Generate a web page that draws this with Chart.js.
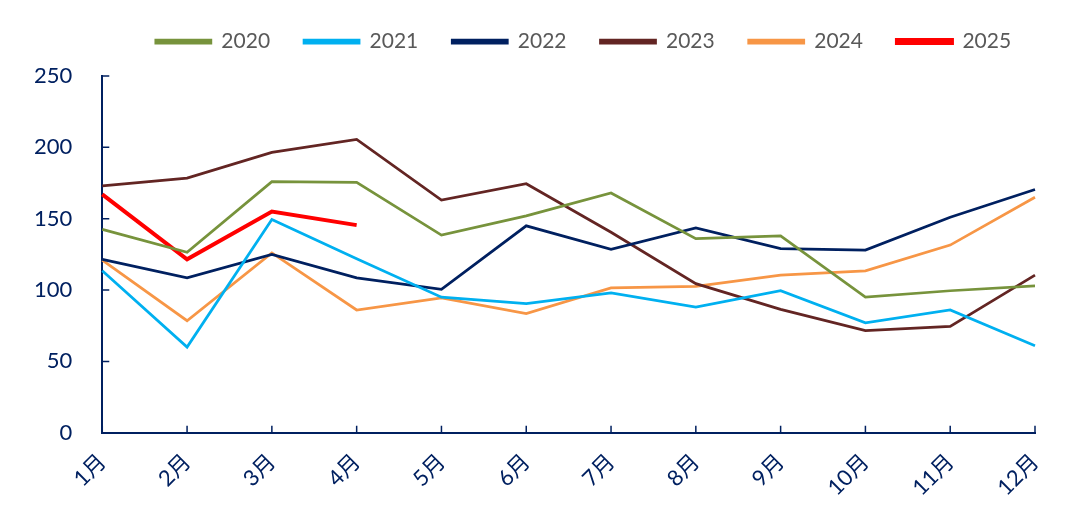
<!DOCTYPE html>
<html>
<head>
<meta charset="utf-8">
<script src="https://cdn.jsdelivr.net/npm/chart.js@4/dist/chart.umd.min.js"></script>
<style>
  body { margin: 0; background: #fff; }
  #wrap { width: 1080px; height: 520px; }
</style>
</head>
<body>
<div id="wrap"><canvas id="chart"></canvas></div>
<script>
var months = ['1月', '2月', '3月', '4月', '5月', '6月', '7月', '8月', '9月', '10月', '11月', '12月'];
var yTicks = [0, 50, 100, 150, 200, 250];

var v2020 = [142.5, 126.5, 176, 175.5, 138.5, 152, 168, 136, 138, 95, 99.5, 103];
var v2021 = [113.5, 60, 149.5, 122, 95, 90.5, 98, 88, 99.5, 77, 86, 61];
var v2022 = [121.5, 108.5, 125, 108.5, 100.5, 145, 128.5, 143.5, 129, 128, 151, 170.5];
var v2023 = [173, 178.5, 196.5, 205.5, 163, 174.5, 140.5, 104.5, 86.5, 71.5, 74.5, 110.5];
var v2024 = [121, 78.5, 126, 86, 94.5, 83.5, 101.5, 102.5, 110.5, 113.5, 131.5, 165];
var v2025 = [167, 121.5, 155, 145.5];

var font = "Lato, 'Noto Sans CJK SC', sans-serif";
var navy = '#002060';

function line(label, data, color, width) {
  return {
    label: label,
    data: data,
    borderColor: color,
    backgroundColor: color,
    borderWidth: width,
    pointRadius: 0,
    pointHoverRadius: 0,
    tension: 0,
    fill: false
  };
}

// tick marks drawn inward, like the source chart
var innerTicks = {
  id: 'innerTicks',
  afterDatasetsDraw: function(chart) {
    var ctx = chart.ctx;
    var x = chart.scales.x, y = chart.scales.y;
    ctx.save();
    ctx.strokeStyle = navy;
    ctx.lineWidth = 1.5;
    ctx.beginPath();
    x.ticks.forEach(function(t, i) {
      var px = x.getPixelForTick(i);
      ctx.moveTo(px, y.bottom);
      ctx.lineTo(px, y.bottom - 7);
    });
    y.ticks.forEach(function(t, i) {
      var py = y.getPixelForTick(i);
      ctx.moveTo(x.left, py);
      ctx.lineTo(x.left + 7, py);
    });
    ctx.stroke();
    ctx.restore();
  }
};

// nudge the legend: centred over the plot, a bit higher
var moveLegend = {
  id: 'moveLegend',
  afterLayout: function(chart) {
    var lg = chart.legend;
    lg.left += 64; lg.right += 64;
    lg.top -= 14; lg.bottom -= 14;
  }
};

var config = {
  type: 'line',
  data: {
    labels: months,
    datasets: [
      line('2020', v2020, '#77933C', 2.75),
      line('2021', v2021, '#00B0F0', 2.75),
      line('2022', v2022, '#002060', 2.75),
      line('2023', v2023, '#632523', 2.75),
      line('2024', v2024, '#F79646', 2.75),
      line('2025', v2025, '#FF0000', 4)
    ]
  },
  options: {
    responsive: true,
    maintainAspectRatio: false,
    animation: false,
    layout: {
      padding: { left: 4, right: 45, top: 11, bottom: 3 }
    },
    plugins: {
      tooltip: { enabled: false },
      legend: {
        position: 'top',
        labels: {
          color: '#595959',
          font: { family: font, size: 21 },
          boxWidth: 55,
          boxHeight: 3,
          padding: 34
        }
      }
    },
    scales: {
      x: {
        offset: false,
        grid: { display: false, drawTicks: false },
        border: { color: navy, width: 2 },
        ticks: {
          color: navy,
          font: { family: font, size: 22 },
          maxRotation: 45,
          minRotation: 45,
          padding: 16,
          autoSkip: false
        }
      },
      y: {
        min: 0,
        max: 250,
        afterBuildTicks: function(scale) {
          scale.ticks = yTicks.map(function(v) { return { value: v }; });
        },
        grid: { display: false, drawTicks: false },
        border: { color: navy, width: 2 },
        ticks: {
          color: navy,
          font: { family: font, size: 22 },
          padding: 30
        }
      }
    }
  },
  plugins: [innerTicks, moveLegend]
};

window.onload = function() {
  var ctx = document.getElementById('chart').getContext('2d');
  window.myChart = new Chart(ctx, config);
};
</script>
</body>
</html>
